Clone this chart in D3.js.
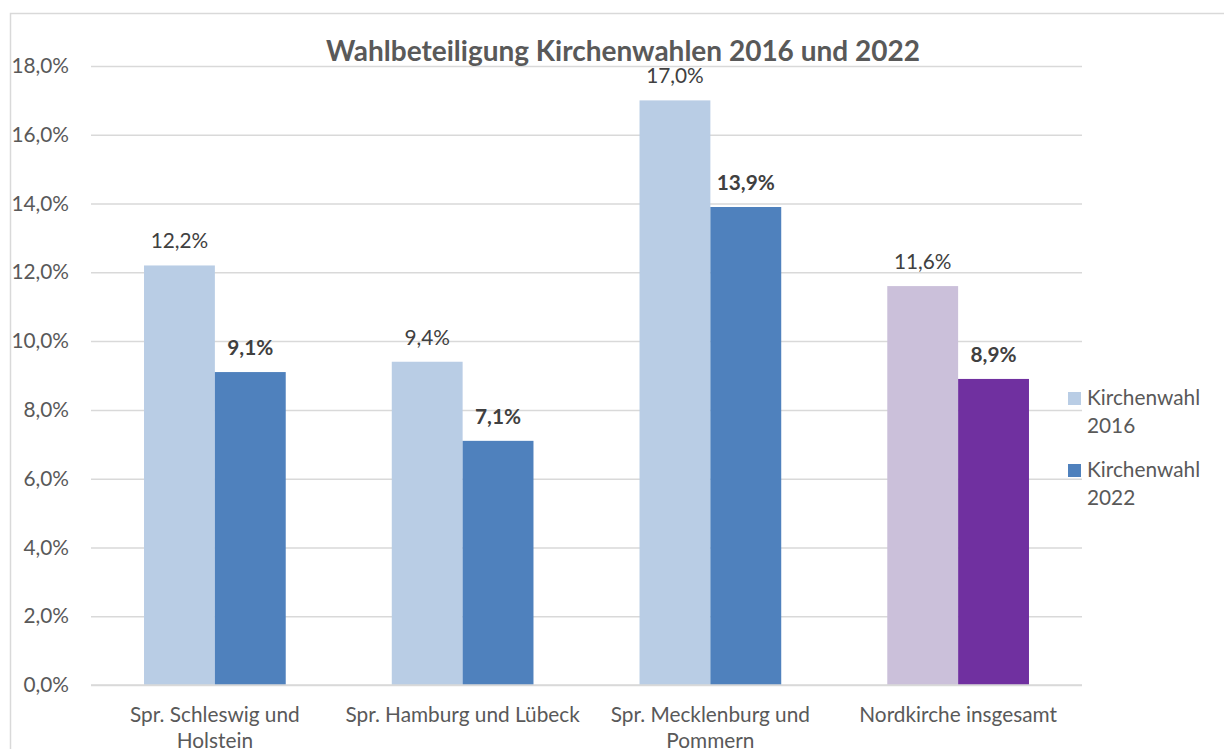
<!DOCTYPE html>
<html><head><meta charset="utf-8">
<script src="https://cdn.jsdelivr.net/npm/d3@7"></script>
<style>body{margin:0;background:#fff;} svg{display:block;font-family:Lato,"Open Sans",sans-serif;}</style>
</head><body>
<svg id="c" width="1224" height="749"></svg>
<script>
const categories = [["Spr. Schleswig und","Holstein"],["Spr. Hamburg und Lübeck"],["Spr. Mecklenburg und","Pommern"],["Nordkirche insgesamt"]];
const series2016 = [12.2, 9.4, 17.0, 11.6];
const series2022 = [9.1, 7.1, 13.9, 8.9];
const colors2016 = ["#B9CDE5","#B9CDE5","#B9CDE5","#CBC0DA"];
const colors2022 = ["#4F81BD","#4F81BD","#4F81BD","#7030A0"];
const yTicks = [0,2,4,6,8,10,12,14,16,18];
const seriesNames = ["Kirchenwahl 2016","Kirchenwahl 2022"];

const svg = d3.select("#c");
const fmt = v => v.toFixed(1).replace(".", ",") + "%";
const L = 91, R = 1082, T = 66, B = 685;
const FS = 20.8;

svg.append("rect").attr("x",10.5).attr("y",13.5).attr("width",1300).attr("height",800)
  .attr("fill","none").attr("stroke","#D9D9D9").attr("stroke-width",1.5);

const x = d3.scaleBand().domain(d3.range(categories.length)).range([L,R]);
const y = d3.scaleLinear().domain([0,18]).range([B,T]);
const barW = x.bandwidth()*0.286;

// grid
const yAxis = d3.axisLeft(y).tickValues(yTicks).tickSize(-(R-L)).tickFormat(fmt).tickPadding(22);
const ga = svg.append("g").attr("transform",`translate(${L},0)`).call(yAxis);
ga.select(".domain").remove();
ga.selectAll(".tick line").attr("stroke","#D9D9D9").attr("stroke-width",1.5);
ga.selectAll(".tick text").attr("fill","#595959").attr("font-size",FS).attr("font-family","Lato,sans-serif");

// bars
const g = svg.append("g");
categories.forEach((c,i)=>{
  const cx = x(i)+x.bandwidth()/2;
  g.append("rect").attr("x",cx-barW).attr("width",barW).attr("y",y(series2016[i])).attr("height",B-y(series2016[i])).attr("fill",colors2016[i]);
  g.append("rect").attr("x",cx).attr("width",barW).attr("y",y(series2022[i])).attr("height",B-y(series2022[i])).attr("fill",colors2022[i]);
  g.append("text").attr("x",cx-barW/2).attr("y",y(series2016[i])-17).attr("text-anchor","middle")
    .attr("fill","#404040").attr("font-size",FS).text(fmt(series2016[i]));
  g.append("text").attr("x",cx+barW/2).attr("y",y(series2022[i])-17).attr("text-anchor","middle")
    .attr("fill","#404040").attr("font-size",FS).attr("font-weight","bold").text(fmt(series2022[i]));
  c.forEach((line,k)=>{
    g.append("text").attr("x",cx).attr("y",722+k*26).attr("text-anchor","middle")
      .attr("fill","#595959").attr("font-size",FS).text(line);
  });
});
// x baseline
svg.append("line").attr("x1",L).attr("x2",R).attr("y1",B).attr("y2",B).attr("stroke","#D9D9D9").attr("stroke-width",1.5);

// title
svg.append("text").attr("x",623).attr("y",61).attr("text-anchor","middle").attr("font-size",28)
  .attr("font-weight","bold").attr("fill","#595959").text("Wahlbeteiligung Kirchenwahlen 2016 und 2022");

// legend
const leg = svg.append("g");
[colors2016[0],colors2022[0]].forEach((col,i)=>{
  const yy = 392 + i*72;
  leg.append("rect").attr("x",1068).attr("y",yy).attr("width",13).attr("height",13).attr("fill",col);
  const parts = seriesNames[i].split(" ");
  parts.forEach((p,k)=>{
    leg.append("text").attr("x",1087).attr("y",yy+13+k*28).attr("fill","#595959").attr("font-size",FS).text(p);
  });
});
</script>
</body></html>
